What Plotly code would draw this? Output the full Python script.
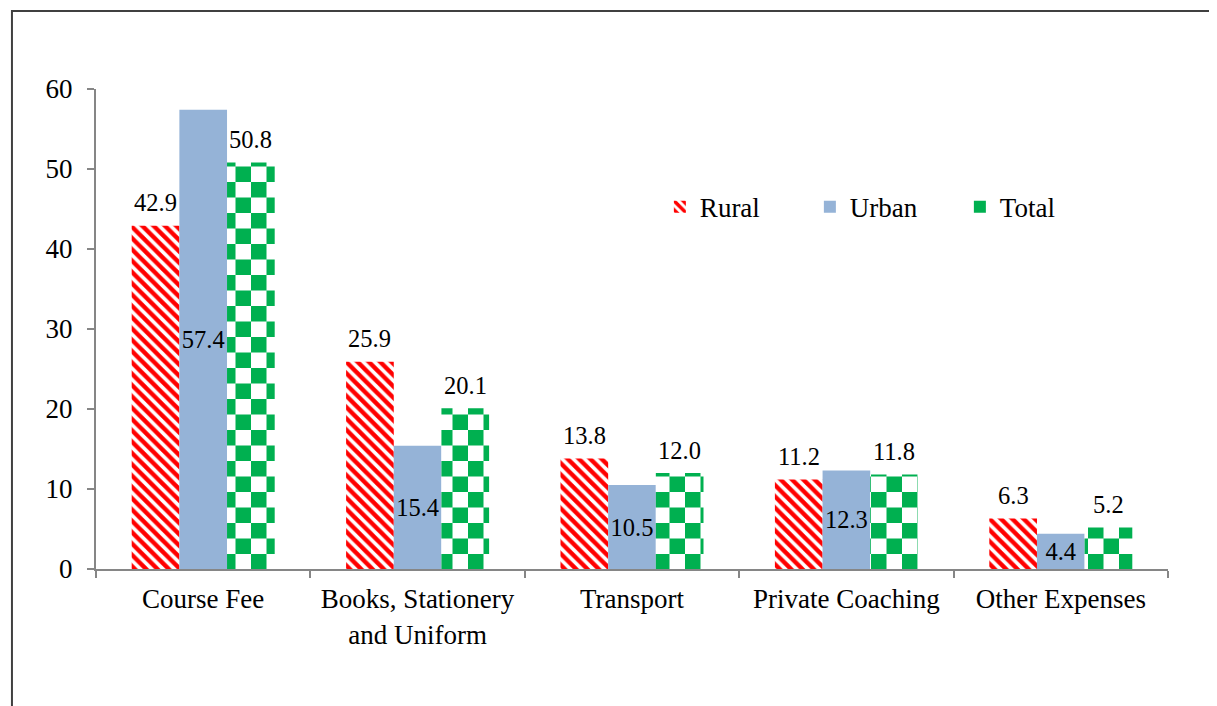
import plotly.graph_objects as go

categories = ["Course Fee", "Books, Stationery<br>and Uniform", "Transport", "Private Coaching", "Other Expenses"]
rural = [42.9, 25.9, 13.8, 11.2, 6.3]
urban = [57.4, 15.4, 10.5, 12.3, 4.4]
total = [50.8, 20.1, 12.0, 11.8, 5.2]
y_ticks = [0, 10, 20, 30, 40, 50, 60]

FONT = "Liberation Serif, Times New Roman, serif"
RED = "#FF0000"
BLUE = "#95B3D7"
GREEN = "#00B050"
BARGAP = 0.333
PLOT_W = 1072

CHECK = 31
checker_path = f"M0,0H{CHECK/2}V{CHECK/2}H0Z M{CHECK/2},{CHECK/2}H{CHECK}V{CHECK}H{CHECK/2}Z"

try:
    total_pattern = go.bar.marker.Pattern(path=checker_path, fgcolor=GREEN, bgcolor="white",
                                          size=CHECK, fillmode="replace")
except Exception:
    total_pattern = go.bar.marker.Pattern(shape=".", fgcolor=GREEN, bgcolor="white", size=15,
                                          solidity=0.5, fillmode="replace")

fig = go.Figure()
fig.add_trace(go.Bar(
    name="Rural", x=categories, y=rural,
    marker=dict(color=RED, line=dict(width=0),
                pattern=dict(shape="\\", fgcolor=RED, bgcolor="white", size=8, solidity=0.55, fillmode="replace")),
))
fig.add_trace(go.Bar(
    name="Urban", x=categories, y=urban,
    marker=dict(color=BLUE, line=dict(width=0)),
    text=[f"{v:.1f}" for v in urban], textposition="inside", insidetextanchor="middle",
    constraintext="none", textangle=0,
    textfont=dict(family=FONT, size=24.5, color="black"), cliponaxis=False,
))
fig.add_trace(go.Bar(
    name="Total", x=categories, y=total,
    marker=dict(color=GREEN, line=dict(width=0), pattern=total_pattern),
))

bar_px = PLOT_W / len(categories) * (1 - BARGAP) / 3
for series, shift in ((rural, -bar_px), (total, bar_px)):
    for cat, v in zip(categories, series):
        fig.add_annotation(x=cat, y=v, xref="x", yref="y", text=f"{v:.1f}", showarrow=False,
                           xshift=shift, yshift=23, yanchor="middle", xanchor="center",
                           font=dict(family=FONT, size=24.5, color="black"))

fig.update_layout(
    width=1209, height=698,
    margin=dict(l=88, r=49, t=81, b=137),
    paper_bgcolor="white", plot_bgcolor="white",
    barmode="group", bargap=BARGAP, bargroupgap=0,
    font=dict(family=FONT, size=27, color="black"),
    showlegend=True,
    legend=dict(orientation="h", x=0.526, y=0.754, xanchor="left", yanchor="middle",
                font=dict(family=FONT, size=27, color="black"),
                entrywidth=105, entrywidthmode="pixels", bgcolor="rgba(0,0,0,0)"),
    xaxis=dict(showline=True, linecolor="#868686", linewidth=2, ticks="outside",
               tickson="boundaries", ticklen=7, tickcolor="#868686", tickwidth=2,
               showgrid=False, ticklabelstandoff=5,
               tickfont=dict(family=FONT, size=27, color="black")),
    yaxis=dict(range=[0, 60], tickvals=y_ticks, showline=True, linecolor="#868686", linewidth=2,
               ticks="outside", ticklen=7, tickcolor="#868686", tickwidth=2, showgrid=False,
               zeroline=False, ticklabelstandoff=9,
               tickfont=dict(family=FONT, size=27, color="black")),
    shapes=[dict(type="rect", xref="paper", yref="paper",
                 x0=-0.0784, x1=1.06, y0=-0.30, y1=1.1625,
                 line=dict(color="#404040", width=2), fillcolor="rgba(0,0,0,0)", layer="below")],
)

fig.write_html("out.html")
